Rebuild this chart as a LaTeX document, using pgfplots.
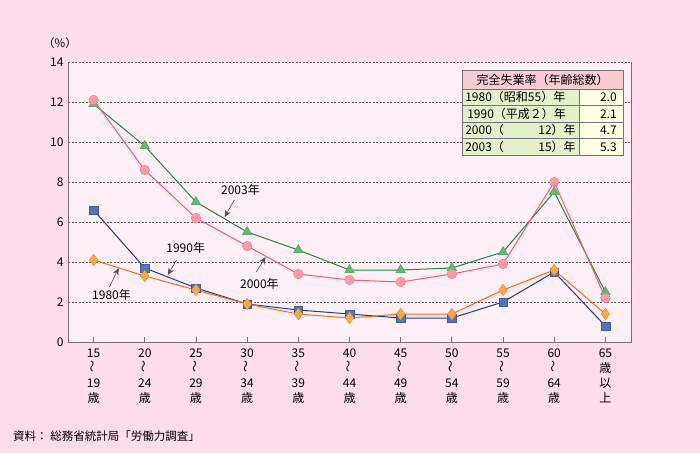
\documentclass[border=0pt]{standalone}
\usepackage{fontspec}
\setmainfont{Noto Sans CJK JP}
\usepackage{pgfplots}
\pgfplotsset{compat=1.18}
\usetikzlibrary{arrows.meta}
\definecolor{bgout}{HTML}{FFDDEC}
\definecolor{plotbg}{HTML}{FFF0F7}
\definecolor{axgray}{HTML}{7A7075}
\definecolor{gridgray}{HTML}{5A5A5A}
\definecolor{cOrange}{HTML}{FF6A10}
\definecolor{cOrangeF}{HTML}{FFA84A}
\definecolor{cBlue}{HTML}{1A3C96}
\definecolor{cBlueF}{HTML}{5574BC}
\definecolor{cPink}{HTML}{F55A72}
\definecolor{cPinkF}{HTML}{FF9AA6}
\definecolor{cGreen}{HTML}{1E8C3C}
\definecolor{cGreenF}{HTML}{62BC72}
\definecolor{hdr}{HTML}{F9CBD3}
\definecolor{lab}{HTML}{E2F2CB}
\definecolor{val}{HTML}{FFFFE4}
\newcommand{\wave}{\rotatebox{90}{～}}
\begin{document}
\begin{tikzpicture}[x=1pt,y=1pt]
\fill[bgout] (-68,-111) rectangle (632,342);
\begin{axis}[at={(0,0)}, anchor=south west,
  width=563pt, height=280pt, scale only axis,
  xmin=-0.5, xmax=10.5, ymin=0, ymax=14,
  axis background/.style={fill=plotbg},
  axis line style={draw=none},
  ytick={0,2,...,14},
  xtick={0,...,10},
  xticklabels={{15\\\wave\\19\\歳},{20\\\wave\\24\\歳},{25\\\wave\\29\\歳},{30\\\wave\\34\\歳},{35\\\wave\\39\\歳},{40\\\wave\\44\\歳},{45\\\wave\\49\\歳},{50\\\wave\\54\\歳},{55\\\wave\\59\\歳},{60\\\wave\\64\\歳},{65\\歳\\以\\上}},
  xticklabel style={align=center, font=\fontsize{12}{15}\selectfont, inner sep=2pt, yshift=-5pt, anchor=north},
  yticklabel style={font=\fontsize{12}{14}\selectfont, xshift=-1pt},
  /pgf/number format/assume math mode=true,
  ymajorgrids, grid style={gridgray, dash pattern=on 2pt off 1.5pt, line width=0.6pt},
  xtick pos=lower, tick align=inside, major tick length=5pt,
  xtick style={axgray, line width=0.8pt},
  ytick style={draw=none},
  clip=false,
]
\draw[axgray, line width=1pt] (rel axis cs:0,1) -- (rel axis cs:0,0) -- (rel axis cs:1,0) -- (rel axis cs:1,1);
\addplot[cGreen, line width=1pt, mark=triangle*, mark size=5.5pt, mark options={fill=cGreenF, draw=cGreenF!80!black, line width=0.4pt}] coordinates {
(0,11.9)(1,9.8)(2,7.0)(3,5.5)(4,4.6)(5,3.6)(6,3.6)(7,3.7)(8,4.5)(9,7.5)(10,2.5)};
\addplot[cPink, line width=1pt, mark=*, mark size=4.8pt, mark options={fill=cPinkF, draw=cPinkF!85!black, line width=0.4pt}] coordinates {
(0,12.1)(1,8.6)(2,6.2)(3,4.8)(4,3.4)(5,3.1)(6,3.0)(7,3.4)(8,3.9)(9,8.0)(10,2.2)};
\addplot[cBlue, line width=1pt, mark=square*, mark size=4.3pt, mark options={fill=cBlueF, draw=cBlueF!80!black, line width=0.4pt}] coordinates {
(0,6.6)(1,3.7)(2,2.7)(3,1.9)(4,1.6)(5,1.4)(6,1.2)(7,1.2)(8,2.0)(9,3.5)(10,0.8)};
\addplot[cOrange, line width=1pt, mark=diamond*, mark size=5.8pt, mark options={fill=cOrangeF, draw=cOrangeF!85!black, line width=0.4pt}] coordinates {
(0,4.1)(1,3.3)(2,2.6)(3,1.9)(4,1.4)(5,1.2)(6,1.4)(7,1.4)(8,2.6)(9,3.6)(10,1.4)};
\begin{scope}[font=\fontsize{12}{14}\selectfont]
\node at (axis cs:2.87,7.6) {2003年};
\draw[-{Stealth[length=7pt,width=6pt]}, black!70, line width=0.6pt] (axis cs:2.75,7.1) -- (axis cs:2.56,6.25);
\node at (axis cs:1.80,4.7) {1990年};
\draw[-{Stealth[length=7pt,width=6pt]}, black!70, line width=0.6pt] (axis cs:1.62,4.1) -- (axis cs:1.45,3.35);
\node at (axis cs:0.35,2.35) {1980年};
\draw[-{Stealth[length=7pt,width=6pt]}, black!70, line width=0.6pt] (axis cs:0.31,2.75) -- (axis cs:0.49,3.7);
\node at (axis cs:3.24,2.9) {2000年};
\draw[-{Stealth[length=7pt,width=6pt]}, black!70, line width=0.6pt] (axis cs:3.18,3.5) -- (axis cs:3.36,4.25);
\end{scope}
\end{axis}
% table
\begin{scope}[font=\fontsize{12}{14}\selectfont, draw=axgray, line width=0.6pt]
\filldraw[fill=hdr] (394,253) rectangle (555,272);
\node at (474.5,262.5) {完全失業率（年齢総数）};
\filldraw[fill=lab] (394,187) rectangle (511,253);
\filldraw[fill=val] (511,187) rectangle (555,253);
\draw (394,236.5) -- (555,236.5);
\draw (394,220) -- (555,220);
\draw (394,203.5) -- (555,203.5);
\node[anchor=west, inner sep=0pt] at (397,244.75) {1980（昭和55）年};
\node[anchor=west, inner sep=0pt] at (399,228.25) {1990（平成２）年};
\node[anchor=west, inner sep=0pt] at (397,211.75) {2000（};
\node[anchor=east, inner sep=0pt] at (508,211.75) {12）年};
\node[anchor=west, inner sep=0pt] at (397,195.25) {2003（};
\node[anchor=east, inner sep=0pt] at (508,195.25) {15）年};
\node[anchor=east, inner sep=0pt] at (549,244.75) {2.0};
\node[anchor=east, inner sep=0pt] at (549,228.25) {2.1};
\node[anchor=east, inner sep=0pt] at (549,211.75) {4.7};
\node[anchor=east, inner sep=0pt] at (549,195.25) {5.3};
\end{scope}
\node[font=\fontsize{11.5}{13}\selectfont] at (-8,299) {（\%）};
\node[anchor=west, font=\fontsize{11.5}{13}\selectfont, inner sep=0pt] at (-55,-94) {資料：\ 総務省統計局「労働力調査」};
\end{tikzpicture}
\end{document}
